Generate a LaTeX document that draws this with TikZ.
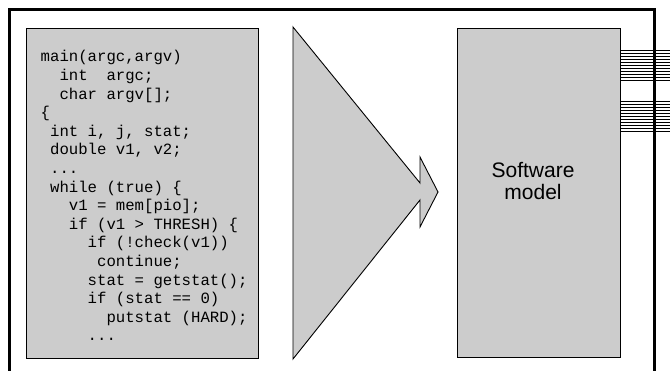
\documentclass[tikz,border=0pt]{standalone}
\usepackage{fontspec}
\setmainfont{Liberation Sans}
\newfontfamily\codefont{Liberation Mono}
\definecolor{boxgray}{HTML}{CCCCCC}
\newcommand{\ind}[1]{\hspace*{#1\dimexpr 0.6em\relax}}
\begin{document}
\begin{tikzpicture}[x=1pt,y=-1pt,
  box/.style={draw=black, fill=boxgray, line width=0.9pt, inner sep=0pt},
  code/.style={anchor=base west, inner sep=0pt, font=\codefont\fontsize{15.67}{18.6}\selectfont},
  wire/.style={draw=black, line width=0.9pt}]
\useasboundingbox (0,0) rectangle (670,371);
% boxes
\node[box, minimum width=232pt, minimum height=330pt] (codebox) at (142,193) {};
\node[box, minimum width=163pt, minimum height=329pt] (model) at (538.5,192.5) {};
\node[align=center, inner sep=0pt, font=\fontsize{21}{22}\selectfont] (modeltext) at (533,181.5) {Software\\model};
% big arrow
\draw[box] (293,27) -- (420,183) -- (420,157) -- (438,192) -- (420,227) -- (420,200) -- (293,359) -- cycle;
% wires
\coordinate (wend) at (672,0);
\foreach \k in {0,...,10} {
  \draw[wire] (model.east |- 0,{50+3*\k}) -- (wend |- 0,{50+3*\k});
  \draw[wire] (model.east |- 0,{101+3*\k}) -- (wend |- 0,{101+3*\k});
}
% frame
\draw[line width=2.2pt] (9.5,380) -- (9.5,9.5) -- (654.5,9.5) -- (654.5,380);
% code lines
\def\xo{40.5}
\node[code] (l1) at (\xo,62) {main(argc,argv)};
\node[code] (l2) at (\xo,80.6) {\ind{2}int\ind{2}argc;};
\node[code] (l3) at (\xo,99.2) {\ind{2}char argv[];};
\node[code] (l4) at (\xo,117.8) {\{};
\node[code] (l5) at (\xo,136.4) {\ind{1}int i, j, stat;};
\node[code] (l6) at (\xo,155) {\ind{1}double v1, v2;};
\node[code] (l7) at (\xo,173.6) {\ind{1}...};
\node[code] (l8) at (\xo,192.2) {\ind{1}while (true) \{};
\node[code] (l9) at (\xo,210.8) {\ind{3}v1 = mem[pio];};
\node[code] (l10) at (\xo,229.4) {\ind{3}if (v1 > THRESH) \{};
\node[code] (l11) at (\xo,248) {\ind{5}if (!check(v1))};
\node[code] (l12) at (\xo,266.6) {\ind{6}continue;};
\node[code] (l13) at (\xo,285.2) {\ind{5}stat = getstat();};
\node[code] (l14) at (\xo,303.8) {\ind{5}if (stat == 0)};
\node[code] (l15) at (\xo,322.4) {\ind{7}putstat (HARD);};
\node[code] (l16) at (\xo,341) {\ind{5}...};
\end{tikzpicture}
\end{document}
